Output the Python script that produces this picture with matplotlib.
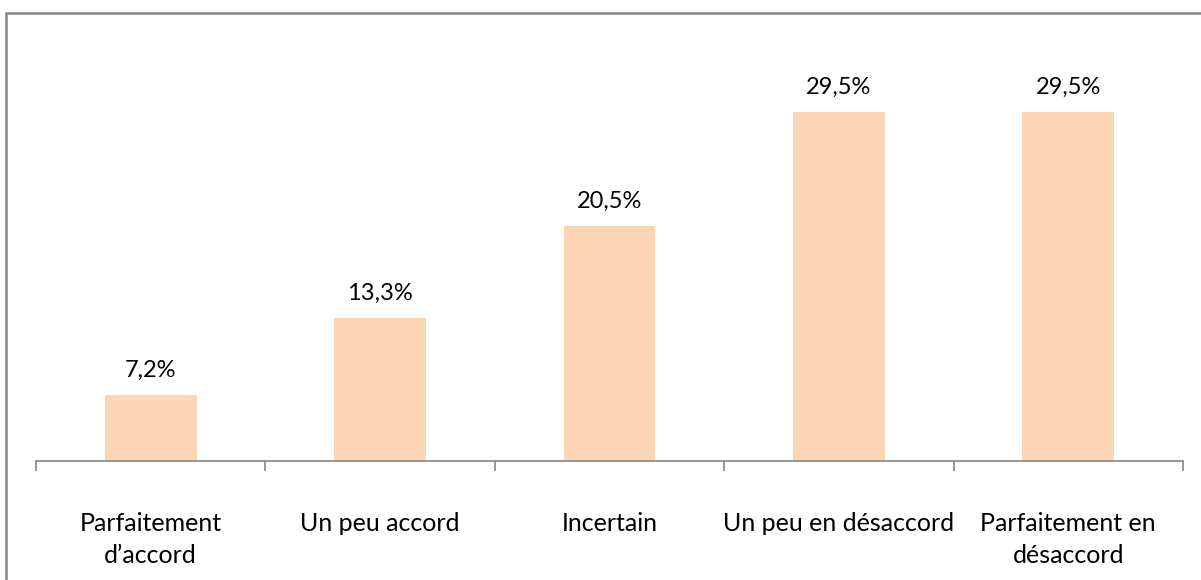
import matplotlib
matplotlib.use("Agg")
import matplotlib.pyplot as plt
from matplotlib.patches import Rectangle

categories = ["Parfaitement\nd\u2019accord", "Un peu accord", "Incertain",
              "Un peu en désaccord", "Parfaitement en\ndésaccord"]
values = [7.2, 13.3, 20.5, 29.5, 29.5]
value_labels = ["7,2%", "13,3%", "20,5%", "29,5%", "29,5%"]

plt.rcParams['font.family'] = ['Lato', 'DejaVu Sans']

fig = plt.figure(figsize=(12.01, 5.80), dpi=100)
ax = fig.add_axes([36/1201, 119/580, 1147/1201, 419/580])

x = list(range(len(categories)))
bars = ax.bar(x, values, width=0.4, color="#FCD5B4", bottom=0)
ax.set_ylim(2, 35)
ax.set_xlim(-0.5, len(categories) - 0.5)

for xi, v, lab in zip(x, values, value_labels):
    ax.annotate(lab, (xi, v), xytext=(0, 17.5), textcoords="offset points",
                ha="center", va="center", fontsize=17, color="black")

for s in ["left", "right", "top"]:
    ax.spines[s].set_visible(False)
ax.spines["bottom"].set_color("#868686")
ax.spines["bottom"].set_linewidth(1.2)
ax.set_yticks([])

ax.set_xticks([i - 0.5 for i in range(len(categories) + 1)], minor=False)
ax.set_xticklabels([""] * (len(categories) + 1))
ax.tick_params(axis="x", which="major", direction="out", length=7, color="#868686", width=1.2)
ax.set_xticks(x, minor=True)
ax.set_xticklabels(categories, minor=True, fontsize=18, linespacing=1.45)
ax.tick_params(axis="x", which="minor", length=0, pad=37)

fig.add_artist(Rectangle((6/1201, -0.1), 2, 1 - 13/580 + 0.1, transform=fig.transFigure,
                         fill=False, edgecolor="#868686", linewidth=1.8))

fig.savefig("out.png", dpi=100)
